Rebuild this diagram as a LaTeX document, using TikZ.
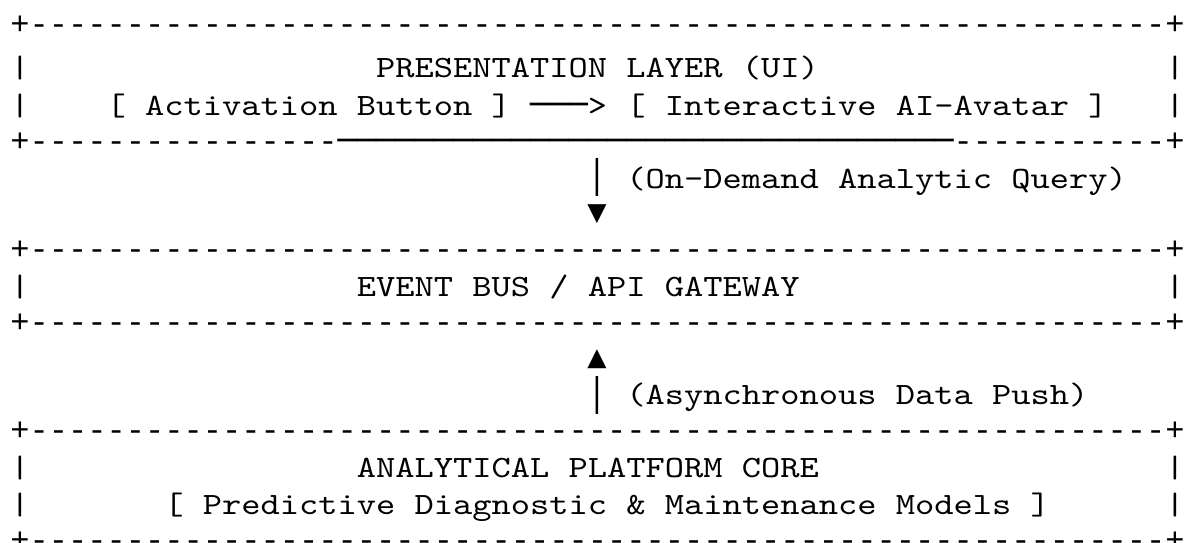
\documentclass[tikz,border=0pt]{standalone}
\usepackage{fontspec}
% typewriter face for the words, widened to a 19.25pt cell;
% Liberation Mono for the dashed rules, DejaVu Sans Mono for box-drawing glyphs
\newfontfamily\asciifont{lmmono10-regular.otf}[FakeStretch=1.1828, Ligatures=TeXOff]
\newfontfamily\rulefont{Liberation Mono}[Ligatures=TeXOff]
\newfontfamily\boxfont{DejaVu Sans Mono}
\ExplSyntaxOn
\cs_new:Npn \reprun #1#2 { \prg_replicate:nn {#1} {#2} }
\ExplSyntaxOff
% left edge of a character cell (cell width 19.25pt)
\newcommand\gx[1]{10.375+19.25*#1}
\begin{document}
\begin{tikzpicture}[x=1pt,y=-1pt,
  ascii/.style={font=\asciifont\fontsize{31}{36}\selectfont, text=black,
    inner sep=0pt, outer sep=0pt, anchor=base west},
  rule/.style={font=\rulefont\fontsize{32.08}{36}\selectfont, text=black,
    inner sep=0pt, outer sep=0pt, anchor=base west},
  glyph/.style={font=\boxfont\fontsize{31.97}{36}\selectfont, text=black,
    inner sep=0pt, outer sep=0pt}]
\fill[white] (0,0) rectangle (1187,542);
\useasboundingbox (0,0) rectangle (1187,542);

% ---- presentation layer box
\node[rule] (uiTop) at (\gx{0},34.2) {+\reprun{59}{-}+};
\node[ascii] (uiL1) at (\gx{0},77.3) {|};
\node[ascii] (uiTitle) at (\gx{19},77.3) {PRESENTATION LAYER (UI)};
\node[ascii] (uiR1) at (\gx{60},77.3) {|};
\node[ascii] (uiL2) at (\gx{0},115.8) {|};
\node[ascii] (btn) at (\gx{5},115.8) {[ Activation Button ]};
\node[glyph, anchor=base west] (btnLine) at (\gx{27},115.7) {\reprun{3}{─}};
\node[ascii] (btnHead) at (\gx{30},115.8) {>};
\node[ascii] (avatar) at (\gx{32},115.8) {[ Interactive AI-Avatar ]};
\node[ascii] (uiR2) at (\gx{60},115.8) {|};
\node[rule] (uiBotA) at (\gx{0},151.2) {+\reprun{16}{-}};
\node[glyph, anchor=base west] (uiBotB) at (\gx{17},151.2) {\reprun{32}{─}};
\node[rule] (uiBotC) at (\gx{49},151.2) {\reprun{11}{-}+};

% ---- query arrow
\node[glyph] (qBar) at (597,177.5) {│};
\node[glyph] (qTip) at (597,213.9) {▼};
\node[ascii] (qLabel) at (\gx{32},188.3) {(On-Demand Analytic Query)};

% ---- gateway box
\node[rule] (gwTop) at (\gx{0},259.2) {+\reprun{59}{-}+};
\node[ascii] (gwL) at (\gx{0},296.3) {|};
\node[ascii] (gwTitle) at (\gx{18},296.3) {EVENT BUS / API GATEWAY};
\node[ascii] (gwR) at (\gx{60},296.3) {|};
\node[rule] (gwBot) at (\gx{0},332.2) {+\reprun{59}{-}+};

% ---- push arrow
\node[glyph] (pTip) at (597,358.9) {▲};
\node[glyph] (pBar) at (597,395.2) {│};
\node[ascii] (pLabel) at (\gx{32},404.3) {(Asynchronous Data Push)};

% ---- analytical core box
\node[rule] (coreTop) at (\gx{0},440.7) {+\reprun{59}{-}+};
\node[ascii] (coreL1) at (\gx{0},477.3) {|};
\node[ascii] (coreTitle) at (\gx{18},477.3) {ANALYTICAL PLATFORM CORE};
\node[ascii] (coreR1) at (\gx{60},477.3) {|};
\node[ascii] (coreL2) at (\gx{0},514.3) {|};
\node[ascii] (models) at (\gx{8},514.3) {[ Predictive Diagnostic \& Maintenance Models ]};
\node[ascii] (coreR2) at (\gx{60},514.3) {|};
\node[rule] (coreBot) at (\gx{0},550.2) {+\reprun{59}{-}+};
\end{tikzpicture}
\end{document}
